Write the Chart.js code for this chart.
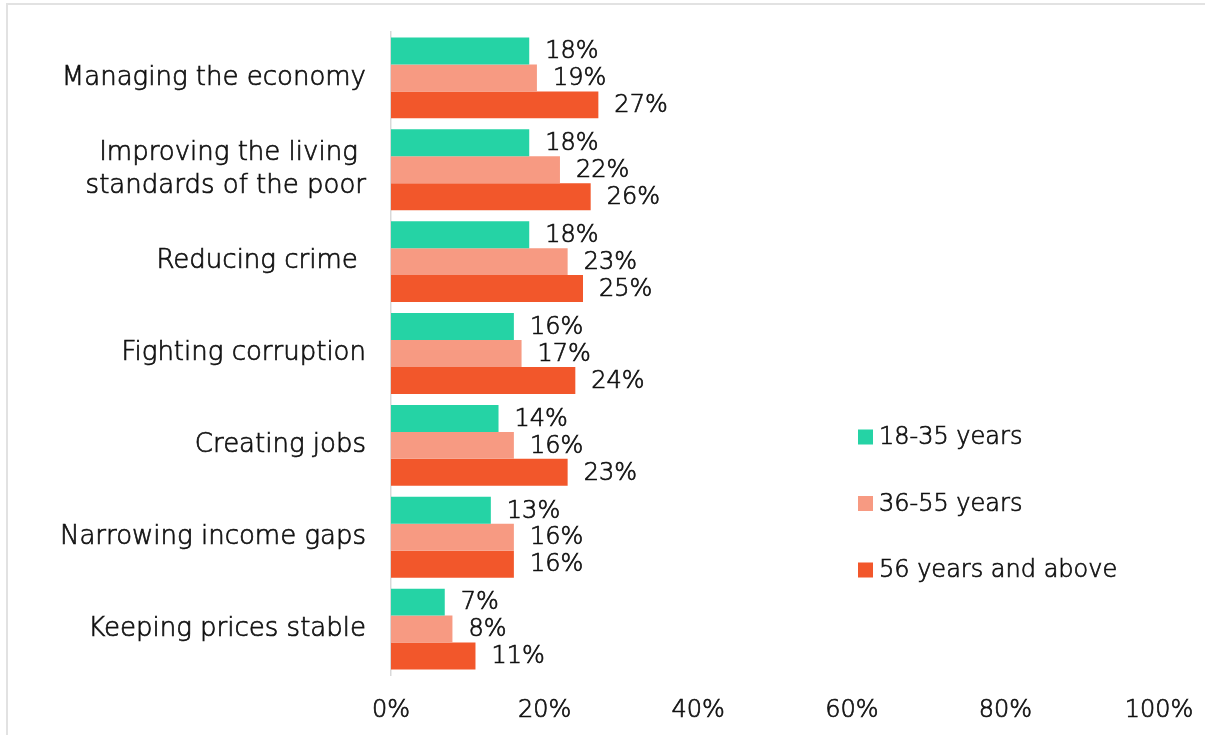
<!DOCTYPE html>
<html><head><meta charset="utf-8">
<script src="https://cdn.jsdelivr.net/npm/chart.js@4.4.0/dist/chart.umd.min.js"></script>
<style>
html,body{margin:0;padding:0;background:#fff;}
#wrap{position:relative;width:1205px;height:735px;overflow:hidden;}
#frame{position:absolute;left:6px;top:3px;width:1210px;height:740px;border-left:2px solid #e2e2e2;border-top:2px solid #e2e2e2;box-sizing:border-box;}
canvas{position:absolute;left:0;top:0;}
</style></head>
<body><div id="wrap"><div id="frame"></div><canvas id="c" width="1205" height="735"></canvas></div>
<script>
/* priorities by age group, share of respondents (%) */
var categories=['Managing the economy',['Improving the living ','standards of the poor'],'Reducing crime ','Fighting corruption','Creating jobs','Narrowing income gaps','Keeping prices stable'];
var age_18_35=[18,18,18,16,14,13,7];
var age_36_55=[19,22,23,17,16,16,8];
var age_56_up=[27,26,25,24,23,16,11];
var series_names=['18-35 years','36-55 years','56 years and above'];
var series_colors=['#25d3a5','#f79a82','#f2572b'];
var x_ticks=[0,20,40,60,80,100];

var FONT='"DejaVu Sans", sans-serif';var WEIGHT='200';var INK='#111111';var STROKE=0.7;

// thin font with a hairline stroke to thicken it a bit
var put_text=function(ctx,t,x,y){ctx.fillText(t,x,y);ctx.strokeText(t,x,y);};
// value labels at the end of each bar
var bar_labels={id:'bar_labels',afterDatasetsDraw:function(chart){var ctx=chart.ctx;ctx.save();
	ctx.font=WEIGHT+' 24px '+FONT;ctx.fillStyle=INK;ctx.strokeStyle=INK;ctx.lineWidth=STROKE;ctx.textAlign='left';ctx.textBaseline='middle';
	chart.data.datasets.forEach(function(ds,i){var meta=chart.getDatasetMeta(i);
		meta.data.forEach(function(el,j){put_text(ctx,ds.data[j]+'%',el.x+16,el.y+1);});});
	ctx.restore();}};
// legend drawn inside the empty right part of the plot
var side_legend={id:'side_legend',afterDraw:function(chart,args,o){var ctx=chart.ctx;ctx.save();
	ctx.font=WEIGHT+' 24px '+FONT;ctx.textAlign='left';ctx.textBaseline='middle';ctx.strokeStyle=INK;ctx.lineWidth=STROKE;
	chart.data.datasets.forEach(function(ds,i){var y=o.y+i*o.step;
		ctx.fillStyle=ds.backgroundColor;ctx.fillRect(o.x,y-7.5,15,15);
		ctx.fillStyle=INK;put_text(ctx,ds.label,o.x+21,y+1);});
	ctx.restore();}};

var datasets=[age_18_35,age_36_55,age_56_up].map(function(d,i){return {label:series_names[i],data:d,backgroundColor:series_colors[i],borderWidth:0,categoryPercentage:0.88,barPercentage:1};});

new Chart(document.getElementById('c'),{type:'bar',
	data:{labels:categories,datasets:datasets},
	plugins:[bar_labels,side_legend],
	options:{indexAxis:'y',responsive:false,animation:false,
		layout:{padding:{top:32,right:46,bottom:0,left:0}},
		plugins:{legend:{display:false},tooltip:{enabled:false},side_legend:{x:858,y:437,step:66.5}},
		scales:{
			x:{min:0,max:100,afterBuildTicks:function(s){s.ticks=x_ticks.map(function(v){return {value:v};});},
				afterFit:function(s){s.height=60;s.paddingLeft=0;s.paddingRight=0;},
				grid:{display:false,drawTicks:false},border:{display:false},
				ticks:{padding:21,color:INK,textStrokeColor:INK,textStrokeWidth:STROKE,font:{family:FONT,size:24,weight:WEIGHT},maxRotation:0,callback:function(v){return v+'%';}}},
			y:{afterFit:function(s){s.width=391;s.paddingTop=0;s.paddingBottom=0;},
				grid:{display:false,drawTicks:false},border:{display:true,color:'#d9d9d9',width:1.5},
				ticks:{padding:25,color:INK,textStrokeColor:INK,textStrokeWidth:STROKE,font:{family:FONT,size:26,weight:WEIGHT,lineHeight:1.3}}}
		}}});
</script></body></html>
